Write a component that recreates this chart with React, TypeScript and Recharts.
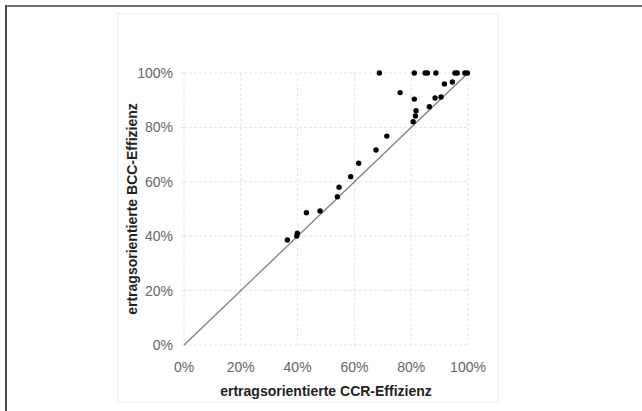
import React from "react";
import { ScatterChart, Scatter, XAxis, YAxis, CartesianGrid, ReferenceLine, Label } from "recharts";

const ccrEfficiency = [0.688, 0.811, 0.849, 0.857, 0.887, 0.954, 0.962, 0.989, 0.998, 0.761, 0.917, 0.945, 0.811, 0.884, 0.905, 0.864, 0.817, 0.815, 0.807, 0.714, 0.676, 0.615, 0.587, 0.546, 0.54, 0.431, 0.479, 0.399, 0.397, 0.364];
const bccEfficiency = [1.0, 1.0, 1.0, 1.0, 1.0, 1.0, 1.0, 1.0, 1.0, 0.928, 0.96, 0.967, 0.904, 0.908, 0.912, 0.876, 0.861, 0.842, 0.821, 0.768, 0.717, 0.668, 0.619, 0.58, 0.545, 0.486, 0.493, 0.411, 0.401, 0.386];
const tickValues = [0, 0.2, 0.4, 0.6, 0.8, 1];
const xTitle = "ertragsorientierte CCR-Effizienz";
const yTitle = "ertragsorientierte BCC-Effizienz";

const points = ccrEfficiency.map((x, i) => ({ x, y: bccEfficiency[i] }));
const pct = (v: number) => `${Math.round(v * 100)}%`;
const FONT = "'Liberation Sans', Arial, sans-serif";

const Dot = (props: any) => <circle cx={props.cx} cy={props.cy} r={2.7} fill="#000" />;

export default function App() {
  return (
    <div style={{ position: "absolute", left: 0, top: 0, width: 642, height: 411, background: "#fff", overflow: "hidden" }}>
      <svg width={642} height={411} style={{ position: "absolute", left: 0, top: 0 }}>
        <line x1={5} y1={6} x2={642} y2={6} stroke="#707070" strokeWidth={2} />
        <line x1={6} y1={5} x2={6} y2={411} stroke="#4a4a4a" strokeWidth={2} />
        <rect x={117.5} y={13.5} width={381} height={389} fill="none" stroke="#e4e4e4" strokeDasharray="2 1" />
      </svg>
      <div style={{ position: "absolute", left: 117, top: 13 }}>
        <ScatterChart width={382} height={390} margin={{ top: 60, right: 31, bottom: 0, left: 0 }}>
          <CartesianGrid stroke="#e3e3e3" strokeDasharray="3 2" />
          <XAxis
            type="number"
            dataKey="x"
            domain={[0, 1]}
            ticks={tickValues}
            tickFormatter={pct}
            axisLine={false}
            tickLine={false}
            tickSize={0}
            tickMargin={17}
            height={58}
            interval={0}
            tick={{ fill: "#666", fontSize: 14, fontFamily: FONT }}
          >
            <Label
              content={(p: any) => {
                const vb = p.viewBox;
                return (
                  <text x={vb.x + vb.width / 2} y={vb.y + 51} textAnchor="middle" fontFamily={FONT} fontSize={14} fontWeight="bold" fill="#222">
                    {xTitle}
                  </text>
                );
              }}
            />
          </XAxis>
          <YAxis
            type="number"
            dataKey="y"
            domain={[0, 1]}
            ticks={tickValues}
            tickFormatter={pct}
            axisLine={false}
            tickLine={{ stroke: "#e3e3e3" }}
            tickSize={3}
            tickMargin={8}
            width={67}
            interval={0}
            tick={{ fill: "#666", fontSize: 14, fontFamily: FONT }}
          >
            <Label
              content={(p: any) => {
                const vb = p.viewBox;
                const cx = vb.x + 20;
                const cy = vb.y + vb.height / 2;
                return (
                  <text x={cx} y={cy} transform={`rotate(-90 ${cx} ${cy})`} textAnchor="middle" fontFamily={FONT} fontSize={14} fontWeight="bold" fill="#222">
                    {yTitle}
                  </text>
                );
              }}
            />
          </YAxis>
          <ReferenceLine segment={[{ x: 0, y: 0 }, { x: 1, y: 1 }]} stroke="#857a7a" strokeWidth={1.3} ifOverflow="visible" />
          <Scatter data={points} shape={Dot} isAnimationActive={false} />
        </ScatterChart>
      </div>
    </div>
  );
}
